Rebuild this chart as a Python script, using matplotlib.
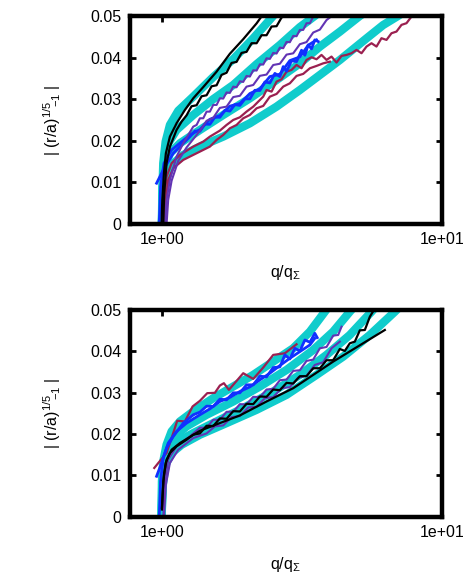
import matplotlib
matplotlib.use('Agg')
import matplotlib.pyplot as plt
from matplotlib.ticker import FixedLocator, FixedFormatter, NullLocator

plt.rcParams['font.family'] = ['Liberation Sans', 'DejaVu Sans']
plt.rcParams['mathtext.default'] = 'regular'

# Axis setup
XLIM = (0.769, 10.0)
YLIM = (0.0, 0.05)
y_ticks = [0.0, 0.01, 0.02, 0.03, 0.04, 0.05]
y_tick_labels = ['0', '0.01', '0.02', '0.03', '0.04', '0.05']
x_ticks = [1.0, 10.0]
x_tick_labels = ['1e+00', '1e+01']

CYAN = '#10cccc'
BLACK = 'black'
PURPLE = '#6234b4'
BLUE = '#1030ff'
MAROON = '#9b2050'

# ---------------- top panel ----------------
top_cyan_a_x = [1.000, 1.003, 1.011, 1.031, 1.068, 1.144, 1.294, 1.525, 1.798, 2.120, 2.498, 2.604]
top_cyan_a_y = [0, 0.0074, 0.0146, 0.0198, 0.0238, 0.0272, 0.0306, 0.0353, 0.0396, 0.0446, 0.0500, 0.0514]
top_cyan_b_x = [1.000, 1.0055, 1.019, 1.053, 1.128, 1.294, 1.525, 1.798, 2.179, 2.639, 3.111, 3.518, 3.667]
top_cyan_b_y = [0, 0.0090, 0.0154, 0.0194, 0.0226, 0.0262, 0.0300, 0.0334, 0.0384, 0.0430, 0.0473, 0.0500, 0.0510]
top_cyan_c_x = [1.000, 1.008, 1.025, 1.068, 1.160, 1.367, 1.656, 2.062, 2.568, 3.111, 3.667, 4.322, 5.095, 5.31]
top_cyan_c_y = [0, 0.0090, 0.0138, 0.0170, 0.0194, 0.0226, 0.0262, 0.0302, 0.0346, 0.0386, 0.0426, 0.0462, 0.0500, 0.0508]
top_cyan_d_x = [1.000, 1.011, 1.0335, 1.083, 1.192, 1.367, 1.656, 2.062, 2.568, 3.111, 3.667, 4.322, 5.383, 6.172, 6.983, 7.277]
top_cyan_d_y = [0, 0.0074, 0.0114, 0.0142, 0.0166, 0.0186, 0.0210, 0.0242, 0.0282, 0.0322, 0.0358, 0.0394, 0.0446, 0.0478, 0.0500, 0.0508]

top_black1_x = [0.997, 1.003, 1.0166, 1.033, 1.068, 1.128, 1.208, 1.294, 1.405, 1.568, 1.749, 1.952, 2.179, 2.288]
top_black1_y = [0, 0.0058, 0.0122, 0.0170, 0.0210, 0.0242, 0.0274, 0.0302, 0.0329, 0.0366, 0.0409, 0.0444, 0.0482, 0.0502]
top_black2_x = [1.011, 1.019, 1.039, 1.068, 1.128, 1.176, 1.225, 1.276, 1.330, 1.386, 1.444, 1.505, 1.568, 1.633,
                1.702, 1.773, 1.848, 1.925, 2.006, 2.091, 2.179, 2.270, 2.365, 2.465, 2.568, 2.676, 2.788]
top_black2_y = [0, 0.0074, 0.0146, 0.0186, 0.0226, 0.0246, 0.02612, 0.02829, 0.02853, 0.03069, 0.03093, 0.03309,
                0.03333, 0.03582, 0.03634, 0.03870, 0.03894, 0.04111, 0.04135, 0.04343, 0.04343, 0.04535, 0.04535,
                0.04744, 0.04752, 0.04960, 0.05024]

top_purple1_x = [1.025, 1.039, 1.068, 1.128, 1.192, 1.294, 1.330, 1.367, 1.405, 1.444, 1.484, 1.525, 1.568, 1.611,
                 1.656, 1.702, 1.749, 1.798, 1.848, 1.899, 1.952, 2.006, 2.062, 2.120, 2.179, 2.239, 2.301, 2.365,
                 2.431, 2.498, 2.568, 2.639, 2.713, 2.788, 2.865, 2.945, 3.027, 3.111, 3.197, 3.286, 3.378, 3.472]
top_purple1_y = [0, 0.0058, 0.0106, 0.0162, 0.0194, 0.0234, 0.02380, 0.02540, 0.02540, 0.02700, 0.02700, 0.02861,
                 0.02861, 0.03021, 0.03013, 0.03161, 0.03149, 0.03301, 0.03285, 0.03429, 0.03413, 0.03558, 0.03542,
                 0.03694, 0.03686, 0.03838, 0.03830, 0.03982, 0.03966, 0.04111, 0.04095, 0.04239, 0.04223, 0.04375,
                 0.04367, 0.04519, 0.04511, 0.04663, 0.04663, 0.04824, 0.04824, 0.04984]
top_purple2_x = [1.039, 1.053, 1.083, 1.144, 1.225, 1.367, 1.444, 1.525, 1.611, 1.702, 1.798, 1.899, 2.006, 2.120,
                 2.239, 2.365, 2.498, 2.639, 2.788, 2.945, 3.111, 3.286, 3.472, 3.667, 3.874, 3.981]
top_purple2_y = [0, 0.0058, 0.0104, 0.0152, 0.0184, 0.0224, 0.0248, 0.0255, 0.0279, 0.0282, 0.0305, 0.0308,
                 0.0330, 0.0334, 0.0356, 0.0359, 0.0382, 0.0385, 0.0407, 0.0410, 0.0432, 0.0437, 0.0460, 0.0467,
                 0.0490, 0.0496]

top_blue1_x = [0.957, 1.011, 1.098, 1.259, 1.312, 1.367, 1.424, 1.484, 1.546, 1.611, 1.679, 1.749, 1.823, 1.899,
               1.979, 2.062, 2.149, 2.239, 2.333, 2.431, 2.533, 2.639, 2.713, 2.788, 2.905, 3.027, 3.154, 3.242,
               3.332, 3.424, 3.518, 3.616]
top_blue1_y = [0.0098, 0.0130, 0.0170, 0.02099, 0.02232, 0.02228, 0.02400, 0.02396, 0.02568, 0.02564, 0.02732,
               0.02712, 0.02869, 0.02849, 0.03005, 0.03007, 0.03213, 0.03207, 0.03413, 0.03389, 0.03618, 0.03542,
               0.03782, 0.03670, 0.03922, 0.03902, 0.04175, 0.04054, 0.04303, 0.04207, 0.04423, 0.04383]
top_blue2_x = [0.978, 0.989, 1.017, 1.083, 1.259, 1.367, 1.484, 1.611, 1.749, 1.899, 2.062, 2.239, 2.431, 2.639,
               2.865, 3.111, 3.332, 3.568]
top_blue2_y = [0, 0.0090, 0.0146, 0.0178, 0.0214, 0.02268, 0.02516, 0.02604, 0.02832, 0.02893, 0.03135, 0.03248,
               0.03542, 0.03598, 0.03926, 0.04014, 0.04295, 0.04423]

top_maroon1_x = [1.011, 1.019, 1.039, 1.083, 1.160, 1.294, 1.405, 1.484, 1.611, 1.702, 1.798, 1.899, 2.006, 2.120,
                 2.239, 2.301, 2.365, 2.465, 2.568, 2.676, 2.788, 2.905, 3.027, 3.154, 3.286, 3.424, 3.568, 3.717,
                 3.874, 4.036, 4.206, 4.383, 4.565, 4.757, 4.957, 5.166, 5.383, 5.609, 5.844, 6.087, 6.345, 6.611,
                 6.888, 7.178, 7.479, 7.794, 8.008]
top_maroon1_y = [0, 0.0058, 0.0114, 0.0146, 0.0166, 0.0186, 0.0198, 0.0210, 0.02244, 0.0238, 0.0250, 0.02564,
                 0.0270, 0.0282, 0.0298, 0.0306, 0.0322, 0.03181, 0.03421, 0.03478, 0.0366, 0.03702, 0.03822,
                 0.03742, 0.03942, 0.04006, 0.03958, 0.04062, 0.03942, 0.04022, 0.03878, 0.04038, 0.04062, 0.04103,
                 0.04183, 0.04103, 0.04263, 0.04343, 0.04263, 0.04463, 0.04423, 0.04583, 0.04623, 0.04784, 0.04824,
                 0.04984, 0.05064]
top_maroon2_x = [1.025, 1.033, 1.053, 1.098, 1.192, 1.294, 1.367, 1.484, 1.568, 1.656, 1.749, 1.848, 1.952, 2.062,
                 2.179, 2.301, 2.431, 2.568, 2.713, 2.865, 3.027, 3.197, 3.378, 3.568, 3.769, 3.981]
top_maroon2_y = [0, 0.0058, 0.0106, 0.0134, 0.0154, 0.0166, 0.0174, 0.0186, 0.0202, 0.0214, 0.0230, 0.0238,
                 0.0254, 0.0262, 0.0278, 0.02837, 0.0306, 0.03125, 0.03301, 0.0338, 0.03558, 0.03606, 0.03742,
                 0.03798, 0.0386, 0.0390]

# ---------------- bottom panel ----------------
bot_cyan_1_x = [0.997, 1.000, 1.011, 1.039, 1.083, 1.160, 1.294, 1.525, 1.798, 2.120, 2.498, 2.945, 3.378, 3.821, 3.981]
bot_cyan_1_y = [0, 0.00859, 0.01341, 0.01743, 0.02064, 0.02305, 0.02546, 0.02867, 0.03149, 0.0343, 0.03751, 0.04072,
                0.04474, 0.04956, 0.05116]
bot_cyan_2_x = [0.997, 1.003, 1.017, 1.053, 1.113, 1.225, 1.444, 1.798, 2.239, 2.788, 3.472, 4.092, 4.692, 4.89]
bot_cyan_2_y = [0, 0.00859, 0.01341, 0.01703, 0.01944, 0.02185, 0.02466, 0.02787, 0.03149, 0.0355, 0.04032, 0.04474,
                0.04956, 0.05092]
bot_cyan_3_x = [0.997, 1.0055, 1.025, 1.068, 1.144, 1.294, 1.568, 1.952, 2.498, 3.111, 3.874, 4.692, 5.609, 5.844]
bot_cyan_3_y = [0, 0.00859, 0.01341, 0.01622, 0.01823, 0.02024, 0.02305, 0.02627, 0.03028, 0.0343, 0.03912, 0.04394,
                0.04956, 0.05092]
bot_cyan_4_x = [0.997, 1.008, 1.031, 1.083, 1.176, 1.367, 1.702, 2.179, 2.788, 3.568, 4.443, 5.533, 6.794, 7.079]
bot_cyan_4_y = [0, 0.00779, 0.01261, 0.01542, 0.01743, 0.01984, 0.02265, 0.02586, 0.02948, 0.0343, 0.03871, 0.04394,
                0.04956, 0.05076]

bot_black1_x = [1.000, 1.0055, 1.017, 1.039, 1.083, 1.160, 1.367, 1.611, 1.899, 2.365, 2.945, 4.092, 6.258]
bot_black1_y = [0.00217, 0.00538, 0.0102, 0.01382, 0.01622, 0.01783, 0.0208, 0.02265, 0.0245, 0.02787, 0.03108,
                0.03751, 0.04514]
bot_black2_x = [1.000, 1.011, 1.031, 1.068, 1.128, 1.225, 1.294, 1.367, 1.444, 1.525, 1.611, 1.702, 1.798, 1.899,
                2.006, 2.120, 2.239, 2.365, 2.498, 2.639, 2.788, 2.945, 3.111, 3.286, 3.472, 3.667, 3.874, 4.092,
                4.322, 4.503, 4.692, 4.89, 5.095, 5.309, 5.533, 5.765]
bot_black2_y = [0.00177, 0.00859, 0.01301, 0.01542, 0.01703, 0.01863, 0.01984, 0.02016, 0.02201, 0.02193, 0.02378,
                0.02369, 0.02554, 0.02546, 0.02731, 0.02723, 0.02908, 0.029, 0.03076, 0.0306, 0.03237, 0.03221,
                0.03398, 0.03398, 0.0359, 0.0359, 0.03783, 0.03783, 0.04056, 0.04008, 0.04193, 0.04233, 0.04506,
                0.04514, 0.04835, 0.05036]

bot_purple1_x = [1.011, 1.025, 1.053, 1.128, 1.259, 1.367, 1.444, 1.525, 1.611, 1.702, 1.798, 1.899, 2.006, 2.120,
                 2.239, 2.365, 2.498, 2.639, 2.788, 2.945, 3.111, 3.286, 3.472, 3.667, 3.874, 4.092, 4.264, 4.383]
bot_purple1_y = [0, 0.00859, 0.01382, 0.01703, 0.01944, 0.02153, 0.02153, 0.02345, 0.02345, 0.02538, 0.02538,
                 0.02723, 0.02715, 0.029, 0.02892, 0.03076, 0.03092, 0.03301, 0.03317, 0.03526, 0.03542, 0.03767,
                 0.03799, 0.04072, 0.04104, 0.04378, 0.04394, 0.04594]
bot_purple2_x = [1.017, 1.033, 1.068, 1.144, 1.294, 1.444, 1.546, 1.656, 1.773, 1.899, 2.034, 2.179, 2.333, 2.498,
                 2.676, 2.865, 3.069, 3.286, 3.518, 3.769, 4.036, 4.322]
bot_purple2_y = [0, 0.00779, 0.01301, 0.01622, 0.01904, 0.02016, 0.02185, 0.02209, 0.0241, 0.02434, 0.02643,
                 0.02659, 0.02867, 0.02892, 0.03108, 0.03133, 0.03365, 0.03406, 0.03671, 0.03735, 0.04072, 0.04233]

bot_blue1_x = [0.957, 0.997, 1.039, 1.098, 1.192, 1.294, 1.367, 1.444, 1.525, 1.611, 1.702, 1.798, 1.899, 2.006,
               2.120, 2.239, 2.365, 2.498, 2.639, 2.750, 2.865, 2.985, 3.111, 3.242, 3.378, 3.518, 3.588]
bot_blue1_y = [0.0098, 0.01301, 0.01663, 0.01944, 0.02265, 0.02466, 0.0253, 0.02675, 0.02667, 0.02843, 0.02827,
               0.02996, 0.02996, 0.03189, 0.03189, 0.03398, 0.03382, 0.03606, 0.03622, 0.03912, 0.03815, 0.04072,
               0.04008, 0.04273, 0.04217, 0.04434, 0.04329]
bot_blue2_x = [0.978, 0.989, 1.011, 1.053, 1.128, 1.225, 1.367, 1.484, 1.611, 1.749, 1.899, 2.062, 2.239, 2.431,
               2.639, 2.865, 3.111, 3.378, 3.518]
bot_blue2_y = [0, 0.00859, 0.01422, 0.01783, 0.02064, 0.02265, 0.02466, 0.0261, 0.02787, 0.02884, 0.03028, 0.0314,
               0.03309, 0.0347, 0.03655, 0.03831, 0.03992, 0.04153, 0.04313]

bot_maroon_x = [0.939, 0.997, 1.039, 1.083, 1.134, 1.208, 1.287, 1.367, 1.452, 1.546, 1.611, 1.665, 1.735, 1.952,
                2.120, 2.301, 2.498, 2.750, 3.027]
bot_maroon_y = [0.01181, 0.01398, 0.01542, 0.01904, 0.02321, 0.02305, 0.02667, 0.02803, 0.02988, 0.02996, 0.03173,
                0.03229, 0.03068, 0.0347, 0.03333, 0.03606, 0.03912, 0.03952, 0.04169]

top_cyan = [(top_cyan_a_x, top_cyan_a_y), (top_cyan_b_x, top_cyan_b_y),
            (top_cyan_c_x, top_cyan_c_y), (top_cyan_d_x, top_cyan_d_y)]
top_data = [(top_maroon2_x, top_maroon2_y, MAROON, 1.6), (top_maroon1_x, top_maroon1_y, MAROON, 1.6),
            (top_blue2_x, top_blue2_y, BLUE, 2.0), (top_blue1_x, top_blue1_y, BLUE, 2.0),
            (top_purple2_x, top_purple2_y, PURPLE, 1.5), (top_purple1_x, top_purple1_y, PURPLE, 1.5),
            (top_black2_x, top_black2_y, BLACK, 1.6), (top_black1_x, top_black1_y, BLACK, 1.6)]
bot_cyan = [(bot_cyan_1_x, bot_cyan_1_y), (bot_cyan_2_x, bot_cyan_2_y),
            (bot_cyan_3_x, bot_cyan_3_y), (bot_cyan_4_x, bot_cyan_4_y)]
bot_data = [(bot_maroon_x, bot_maroon_y, MAROON, 1.6),
            (bot_blue2_x, bot_blue2_y, BLUE, 2.0), (bot_blue1_x, bot_blue1_y, BLUE, 2.0),
            (bot_purple2_x, bot_purple2_y, PURPLE, 1.5), (bot_purple1_x, bot_purple1_y, PURPLE, 1.5),
            (bot_black2_x, bot_black2_y, BLACK, 1.6), (bot_black1_x, bot_black1_y, BLACK, 1.6)]

fig = plt.figure(figsize=(4.71, 5.88), dpi=100)
ax_top = fig.add_axes([0.276, 0.619, 0.662, 0.354])
ax_bot = fig.add_axes([0.276, 0.121, 0.662, 0.352])

for ax, cyans, lines in [(ax_top, top_cyan, top_data), (ax_bot, bot_cyan, bot_data)]:
    for cx, cy in cyans:
        ax.plot(cx, cy, color=CYAN, lw=6, solid_capstyle='butt')
    for lx, ly, col, lw in lines:
        ax.plot(lx, ly, color=col, lw=lw)

    ax.set_xscale('log')
    ax.set_xlim(*XLIM)
    ax.set_ylim(*YLIM)
    ax.xaxis.set_major_locator(FixedLocator(x_ticks))
    ax.xaxis.set_major_formatter(FixedFormatter(x_tick_labels))
    ax.xaxis.set_minor_locator(NullLocator())
    ax.yaxis.set_major_locator(FixedLocator(y_ticks))
    ax.yaxis.set_major_formatter(FixedFormatter(y_tick_labels))
    ax.tick_params(direction='in', length=4, width=2, labelsize=11.5,
                   top=True, right=True, pad=6)
    for sp in ax.spines.values():
        sp.set_linewidth(3.2)
    ax.set_xlabel(r'q/q$_{\Sigma}$', fontsize=11.5, labelpad=11)
    ax.set_ylabel(r'| (r/a)$^{1/5}\!\!{}_{-1}$ |', fontsize=11.5)
    ax.yaxis.set_label_coords(-0.215, 0.5)

fig.savefig('out.png', dpi=100)
